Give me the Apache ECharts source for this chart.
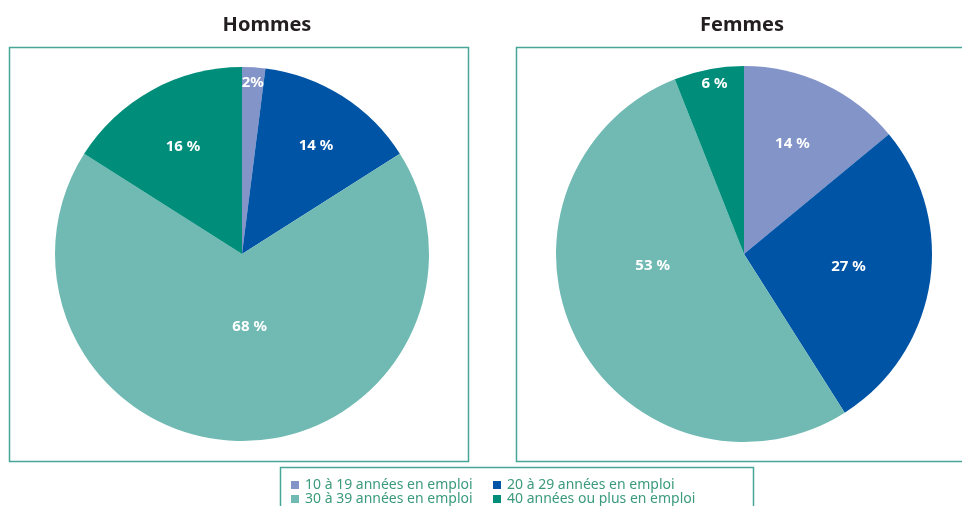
<!DOCTYPE html>
<html>
<head>
<meta charset="utf-8">
<script src="https://cdn.jsdelivr.net/npm/echarts@6/dist/echarts.min.js"></script>
<style>
  html, body { margin: 0; padding: 0; background: #fff; }
  #chart { width: 962px; height: 506px; }
</style>
</head>
<body>
<div id="chart"></div>
<script>
// categories and values (percent)
const categories = ['10 à 19 années en emploi', '20 à 29 années en emploi', '30 à 39 années en emploi', '40 années ou plus en emploi']
const colors = ['#8294c8', '#0054a6', '#70bab3', '#008e7b']
const hommes = [2, 14, 68, 16]
const femmes = [14, 27, 53, 6]
const titles = ['Hommes', 'Femmes']

// label placement: fraction of radius, angular shift (deg)
const labelFrac = [[0.915, 0.70, 0.39, 0.655], [0.64, 0.56, 0.49, 0.92]]
const labelShift = [[0, 2, -6, 0], [-1.5, -2, 19.5, 1]]

const pies = [
  {center: [242, 254], r: 187, values: hommes},
  {center: [744, 254], r: 188, values: femmes}
]

let chart = echarts.init(document.getElementById('chart'))

const frameColor = '#46a698'

function labelPos(params) {
  const s = params.seriesIndex
  const i = params.dataIndex
  const p = pies[s]
  if (!p) return {}
  const total = p.values.reduce((a, b) => a + b, 0)
  let before = 0
  for (let k = 0; k < i; k++) before += p.values[k]
  const mid = (before + p.values[i] / 2) / total * 360 + labelShift[s][i]
  const rad = mid * Math.PI / 180
  const d = labelFrac[s][i] * p.r
  return {
    x: p.center[0] + d * Math.sin(rad),
    y: p.center[1] - d * Math.cos(rad),
    align: 'center',
    verticalAlign: 'middle'
  }
}

const legendText = {fontFamily: 'Noto Sans', fontSize: 14, color: '#3b9a7c', lineHeight: 13, padding: [0, 0, 0, 1]}

chart.setOption({
  animation: false,
  color: colors,
  title: [
    {text: titles[0], left: 262, top: 10, textAlign: 'center',
      textStyle: {fontFamily: 'Noto Sans', fontSize: 20, fontWeight: 'bold', color: '#231f20'}},
    {text: titles[1], left: 737, top: 10, textAlign: 'center',
      textStyle: {fontFamily: 'Noto Sans', fontSize: 20, fontWeight: 'bold', color: '#231f20'}}
  ],
  legend: [
    {
      data: [categories[0], categories[2]],
      orient: 'vertical', left: 291, top: 478, padding: 0, height: 30,
      itemWidth: 8, itemHeight: 8, itemGap: 0, icon: 'rect',
      textStyle: legendText
    },
    {
      data: [categories[1], categories[3]],
      orient: 'vertical', left: 493, top: 478, padding: 0, height: 30,
      itemWidth: 8, itemHeight: 8, itemGap: 0, icon: 'rect',
      textStyle: legendText
    }
  ],
  graphic: [
    {type: 'rect', shape: {x: 9.5, y: 47.5, width: 459, height: 414}, silent: true,
      style: {fill: 'none', stroke: frameColor, lineWidth: 1.5}},
    {type: 'rect', shape: {x: 516.5, y: 47.5, width: 460, height: 414}, silent: true,
      style: {fill: 'none', stroke: frameColor, lineWidth: 1.5}},
    {type: 'rect', shape: {x: 280.5, y: 467.5, width: 473, height: 60}, silent: true,
      style: {fill: 'none', stroke: frameColor, lineWidth: 1.5}}
  ],
  series: pies.map((p, s) => ({
    type: 'pie',
    center: p.center,
    radius: [0, p.r],
    startAngle: 90,
    clockwise: true,
    silent: true,
    itemStyle: {borderWidth: 0},
    label: {
      show: true,
      position: 'inside',
      formatter: '{c} %',
      color: '#fff',
      fontFamily: 'Noto Sans',
      fontWeight: 'bold',
      fontSize: 15
    },
    labelLine: {show: false},
    labelLayout: labelPos,
    data: p.values.map((v, i) => {
      const item = {name: categories[i], value: v}
      if (s === 0 && i === 0) item.label = {formatter: '{c}%'}
      return item
    })
  }))
})
</script>
</body>
</html>
